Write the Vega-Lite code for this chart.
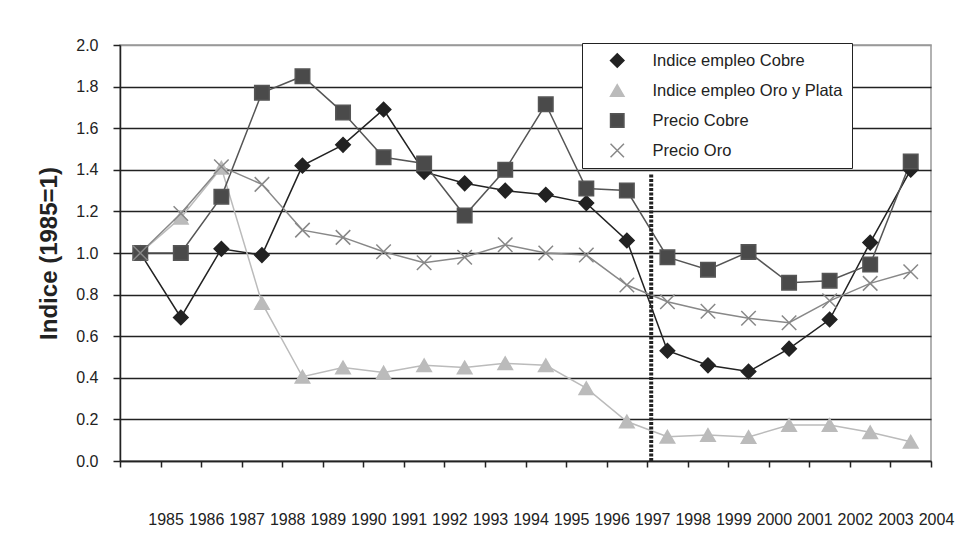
{
  "$schema": "https://vega.github.io/schema/vega-lite/v6.json",
  "width": 811,
  "height": 416,
  "autosize": {"type": "none"},
  "padding": {"left": 120, "top": 45, "right": 36, "bottom": 91},
  "background": "white",
  "config": {
    "font": "Liberation Sans",
    "view": {"stroke": "#999999", "strokeWidth": 1.5},
    "line": {"strokeWidth": 1.5},
    "point": {"strokeWidth": 1.5}
  },
  "datasets": {
    "series": [
      {"year": 1985, "serie": "Indice empleo Cobre", "valor": 1.0},
      {"year": 1986, "serie": "Indice empleo Cobre", "valor": 0.69},
      {"year": 1987, "serie": "Indice empleo Cobre", "valor": 1.02},
      {"year": 1988, "serie": "Indice empleo Cobre", "valor": 0.99},
      {"year": 1989, "serie": "Indice empleo Cobre", "valor": 1.42},
      {"year": 1990, "serie": "Indice empleo Cobre", "valor": 1.52},
      {"year": 1991, "serie": "Indice empleo Cobre", "valor": 1.69},
      {"year": 1992, "serie": "Indice empleo Cobre", "valor": 1.39},
      {"year": 1993, "serie": "Indice empleo Cobre", "valor": 1.335},
      {"year": 1994, "serie": "Indice empleo Cobre", "valor": 1.3},
      {"year": 1995, "serie": "Indice empleo Cobre", "valor": 1.28},
      {"year": 1996, "serie": "Indice empleo Cobre", "valor": 1.24},
      {"year": 1997, "serie": "Indice empleo Cobre", "valor": 1.06},
      {"year": 1998, "serie": "Indice empleo Cobre", "valor": 0.53},
      {"year": 1999, "serie": "Indice empleo Cobre", "valor": 0.46},
      {"year": 2000, "serie": "Indice empleo Cobre", "valor": 0.43},
      {"year": 2001, "serie": "Indice empleo Cobre", "valor": 0.54},
      {"year": 2002, "serie": "Indice empleo Cobre", "valor": 0.68},
      {"year": 2003, "serie": "Indice empleo Cobre", "valor": 1.05},
      {"year": 2004, "serie": "Indice empleo Cobre", "valor": 1.4},
      {"year": 1985, "serie": "Indice empleo Oro  y Plata", "valor": 1.0},
      {"year": 1986, "serie": "Indice empleo Oro  y Plata", "valor": 1.17},
      {"year": 1987, "serie": "Indice empleo Oro  y Plata", "valor": 1.41},
      {"year": 1988, "serie": "Indice empleo Oro  y Plata", "valor": 0.76},
      {"year": 1989, "serie": "Indice empleo Oro  y Plata", "valor": 0.405},
      {"year": 1990, "serie": "Indice empleo Oro  y Plata", "valor": 0.45},
      {"year": 1991, "serie": "Indice empleo Oro  y Plata", "valor": 0.425},
      {"year": 1992, "serie": "Indice empleo Oro  y Plata", "valor": 0.46},
      {"year": 1993, "serie": "Indice empleo Oro  y Plata", "valor": 0.45},
      {"year": 1994, "serie": "Indice empleo Oro  y Plata", "valor": 0.47},
      {"year": 1995, "serie": "Indice empleo Oro  y Plata", "valor": 0.46},
      {"year": 1996, "serie": "Indice empleo Oro  y Plata", "valor": 0.35},
      {"year": 1997, "serie": "Indice empleo Oro  y Plata", "valor": 0.19},
      {"year": 1998, "serie": "Indice empleo Oro  y Plata", "valor": 0.117},
      {"year": 1999, "serie": "Indice empleo Oro  y Plata", "valor": 0.125},
      {"year": 2000, "serie": "Indice empleo Oro  y Plata", "valor": 0.115},
      {"year": 2001, "serie": "Indice empleo Oro  y Plata", "valor": 0.173},
      {"year": 2002, "serie": "Indice empleo Oro  y Plata", "valor": 0.173},
      {"year": 2003, "serie": "Indice empleo Oro  y Plata", "valor": 0.138},
      {"year": 2004, "serie": "Indice empleo Oro  y Plata", "valor": 0.093},
      {"year": 1985, "serie": "Precio Cobre", "valor": 1.0},
      {"year": 1986, "serie": "Precio Cobre", "valor": 1.0},
      {"year": 1987, "serie": "Precio Cobre", "valor": 1.27},
      {"year": 1988, "serie": "Precio Cobre", "valor": 1.77},
      {"year": 1989, "serie": "Precio Cobre", "valor": 1.85},
      {"year": 1990, "serie": "Precio Cobre", "valor": 1.675},
      {"year": 1991, "serie": "Precio Cobre", "valor": 1.46},
      {"year": 1992, "serie": "Precio Cobre", "valor": 1.43},
      {"year": 1993, "serie": "Precio Cobre", "valor": 1.18},
      {"year": 1994, "serie": "Precio Cobre", "valor": 1.4},
      {"year": 1995, "serie": "Precio Cobre", "valor": 1.715},
      {"year": 1996, "serie": "Precio Cobre", "valor": 1.31},
      {"year": 1997, "serie": "Precio Cobre", "valor": 1.3},
      {"year": 1998, "serie": "Precio Cobre", "valor": 0.98},
      {"year": 1999, "serie": "Precio Cobre", "valor": 0.92},
      {"year": 2000, "serie": "Precio Cobre", "valor": 1.005},
      {"year": 2001, "serie": "Precio Cobre", "valor": 0.857},
      {"year": 2002, "serie": "Precio Cobre", "valor": 0.867},
      {"year": 2003, "serie": "Precio Cobre", "valor": 0.945},
      {"year": 2004, "serie": "Precio Cobre", "valor": 1.44},
      {"year": 1985, "serie": "Precio Oro", "valor": 1.0},
      {"year": 1986, "serie": "Precio Oro", "valor": 1.19},
      {"year": 1987, "serie": "Precio Oro", "valor": 1.415},
      {"year": 1988, "serie": "Precio Oro", "valor": 1.33},
      {"year": 1989, "serie": "Precio Oro", "valor": 1.11},
      {"year": 1990, "serie": "Precio Oro", "valor": 1.075},
      {"year": 1991, "serie": "Precio Oro", "valor": 1.006},
      {"year": 1992, "serie": "Precio Oro", "valor": 0.953},
      {"year": 1993, "serie": "Precio Oro", "valor": 0.98},
      {"year": 1994, "serie": "Precio Oro", "valor": 1.04},
      {"year": 1995, "serie": "Precio Oro", "valor": 1.0},
      {"year": 1996, "serie": "Precio Oro", "valor": 0.99},
      {"year": 1997, "serie": "Precio Oro", "valor": 0.846},
      {"year": 1998, "serie": "Precio Oro", "valor": 0.766},
      {"year": 1999, "serie": "Precio Oro", "valor": 0.72},
      {"year": 2000, "serie": "Precio Oro", "valor": 0.686},
      {"year": 2001, "serie": "Precio Oro", "valor": 0.665},
      {"year": 2002, "serie": "Precio Oro", "valor": 0.77},
      {"year": 2003, "serie": "Precio Oro", "valor": 0.854},
      {"year": 2004, "serie": "Precio Oro", "valor": 0.91}
    ],
    "corte": [
      {"year": 1997.6, "desde": 0, "hasta": 1.38}
    ]
  },
  "layer": [
    {
      "data": {"name": "series"},
      "mark": {"type": "line"},
      "encoding": {
        "x": {
          "field": "year", "type": "quantitative",
          "scale": {"domain": [1984.5, 2004.5], "nice": false, "zero": false},
          "axis": {
            "title": null,
            "values": [1984.5, 1985.5, 1986.5, 1987.5, 1988.5, 1989.5, 1990.5, 1991.5, 1992.5, 1993.5, 1994.5, 1995.5, 1996.5, 1997.5, 1998.5, 1999.5, 2000.5, 2001.5, 2002.5, 2003.5, 2004.5],
            "labelExpr": "datum.value < 1985 ? '' : format(datum.value - 0.5, 'd')",
            "labelOffset": 5,
            "labelPadding": 44,
            "labelFontSize": 16,
            "labelColor": "#222222",
            "labelFlush": false,
            "labelOverlap": false,
            "grid": false,
            "domainColor": "#222222",
            "domainWidth": 1.5,
            "tickColor": "#222222",
            "tickWidth": 1.5,
            "tickSize": 6
          }
        },
        "y": {
          "field": "valor", "type": "quantitative",
          "scale": {"domain": [0, 2], "nice": false},
          "axis": {
            "title": "Indice (1985=1)",
            "titleFontSize": 24,
            "titleFontWeight": "bold",
            "titleColor": "#222222",
            "titlePadding": 14,
            "values": [0, 0.2, 0.4, 0.6, 0.8, 1.0, 1.2, 1.4, 1.6, 1.8, 2.0],
            "format": ".1f",
            "labelFontSize": 16,
            "labelColor": "#222222",
            "labelPadding": 15,
            "labelFlush": false,
            "tickSize": 7,
            "tickColor": "#222222",
            "tickWidth": 1.5,
            "domainColor": "#222222",
            "domainWidth": 1.5,
            "grid": true,
            "gridColor": {"condition": {"test": "datum.value >= 2", "value": "#999999"}, "value": "#222222"},
            "gridWidth": 1.5
          }
        },
        "stroke": {
          "field": "serie", "type": "nominal",
          "scale": {
            "domain": ["Indice empleo Cobre", "Indice empleo Oro  y Plata", "Precio Cobre", "Precio Oro"],
            "range": ["#222222", "#bbbbbb", "#555555", "#888888"]
          }
        }
      }
    },
    {
      "data": {"name": "series"},
      "mark": {"type": "point", "filled": true, "opacity": 1, "size": 210},
      "encoding": {
        "x": {"field": "year", "type": "quantitative"},
        "y": {"field": "valor", "type": "quantitative"},
        "fill": {
          "field": "serie", "type": "nominal",
          "scale": {
            "domain": ["Indice empleo Cobre", "Indice empleo Oro  y Plata", "Precio Cobre", "Precio Oro"],
            "range": ["#222222", "#bbbbbb", "#4a4a4a", "#888888"]
          },
          "legend": {
            "title": null,
            "orient": "none",
            "legendX": 462,
            "legendY": -2,
            "padding": 5,
            "fillColor": "white",
            "strokeColor": "#222222",
            "cornerRadius": 0,
            "labelFontSize": 16.5,
            "labelColor": "#222222",
            "labelOffset": 27,
            "labelLimit": 400,
            "symbolSize": 180,
            "symbolOffset": 22,
            "clipHeight": 25,
            "rowPadding": 5
          }
        },
        "stroke": {
          "field": "serie", "type": "nominal"
        },
        "shape": {
          "field": "serie", "type": "nominal",
          "scale": {
            "domain": ["Indice empleo Cobre", "Indice empleo Oro  y Plata", "Precio Cobre", "Precio Oro"],
            "range": ["diamond", "triangle-up", "square", "M-1,-1L1,1M-1,1L1,-1"]
          }
        }
      }
    },
    {
      "data": {"name": "corte"},
      "mark": {"type": "rule", "color": "#222222", "strokeWidth": 4, "strokeDash": [3, 1.5]},
      "encoding": {
        "x": {"field": "year", "type": "quantitative"},
        "y": {"field": "desde", "type": "quantitative"},
        "y2": {"field": "hasta"}
      }
    }
  ]
}
